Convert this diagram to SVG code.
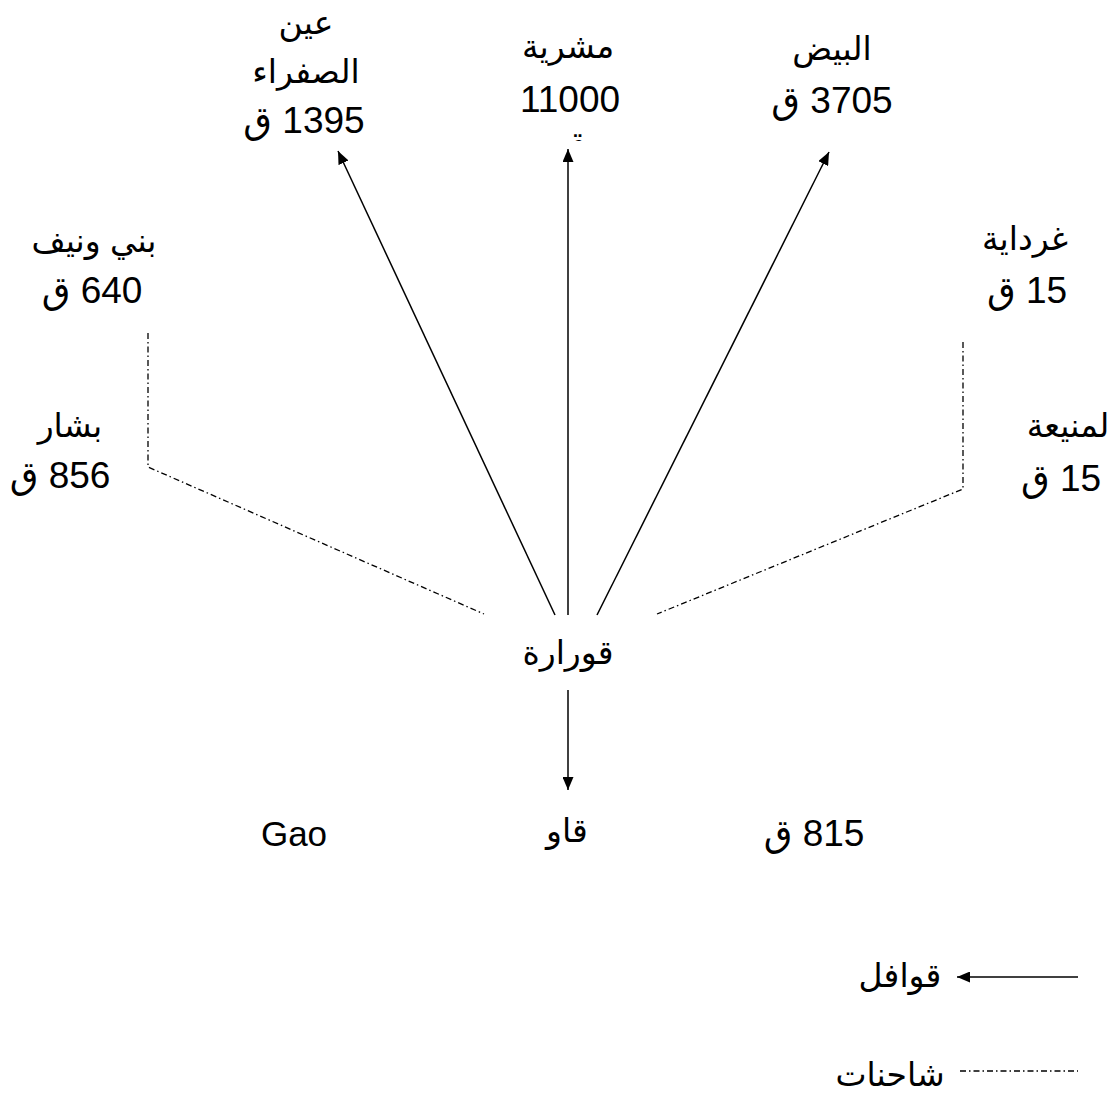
<svg xmlns="http://www.w3.org/2000/svg" width="1118" height="1095" viewBox="0 0 1118 1095">
<style>
text{font-family:"Liberation Sans","DejaVu Sans","Noto Sans",sans-serif;font-size:33px;fill:#000;text-anchor:middle}
.n{font-size:37px;direction:rtl}
.ln{stroke:#000;stroke-width:1.5;fill:none}
.dd{stroke:#000;stroke-width:1.3;fill:none;stroke-dasharray:6 3 1.5 3}
</style>
<defs>
<marker id="ah" viewBox="0 0 13 11" refX="13" refY="5.5" markerWidth="13" markerHeight="11" markerUnits="userSpaceOnUse" orient="auto">
<path d="M0,0 L13,5.5 L0,11 Z" fill="#000"/>
</marker>
<clipPath id="cq"><rect x="540" y="120" width="60" height="21"/></clipPath>
</defs>
<rect width="1118" height="1095" fill="#fff"/>
<g id="connectors">
<line class="ln" x1="555" y1="615" x2="338" y2="151" marker-end="url(#ah)"/>
<line class="ln" x1="568" y1="615" x2="568" y2="149" marker-end="url(#ah)"/>
<line class="ln" x1="597" y1="615" x2="829" y2="152" marker-end="url(#ah)"/>
<line class="ln" x1="568" y1="690" x2="568" y2="790" marker-end="url(#ah)"/>
<polyline class="dd" points="148,333 148,467 484,614"/>
<polyline class="dd" points="963,342 963,489 657,614"/>
</g>
<g id="n-ain-sefra"><text x="306" y="34">عين</text><text x="306" y="83">الصفراء</text><text class="n" x="304" y="133">1395 ق</text></g>
<g id="n-mecheria"><text x="568" y="58">مشرية</text><text x="570" y="112" style="font-size:37px">11000</text><text x="573" y="158" clip-path="url(#cq)" style="font-size:37px">ق</text></g>
<g id="n-bayadh"><text x="832" y="60">البيض</text><text class="n" x="832" y="113">3705 ق</text></g>
<g id="n-beni-ounif"><text x="94" y="252">بني ونيف</text><text class="n" x="92" y="303">640 ق</text></g>
<g id="n-bechar"><text x="70" y="437">بشار</text><text class="n" x="60" y="488">856 ق</text></g>
<g id="n-ghardaia"><text x="1025" y="250">غرداية</text><text class="n" x="1027" y="303">15 ق</text></g>
<g id="n-menia"><text x="1068" y="437">لمنيعة</text><text class="n" x="1061" y="491">15 ق</text></g>
<g id="n-gourara"><text x="568" y="664">قورارة</text></g>
<g id="n-gao"><text x="294" y="846" style="font-size:35px">Gao</text><text x="567" y="842">قاو</text><text class="n" x="814" y="846">815 ق</text></g>
<g id="legend">
<line class="ln" x1="1078" y1="977" x2="957" y2="977" marker-end="url(#ah)"/>
<text x="900" y="987">قوافل</text>
<line class="dd" x1="960" y1="1071" x2="1078" y2="1071"/>
<text x="890" y="1086">شاحنات</text>
</g>
</svg>
